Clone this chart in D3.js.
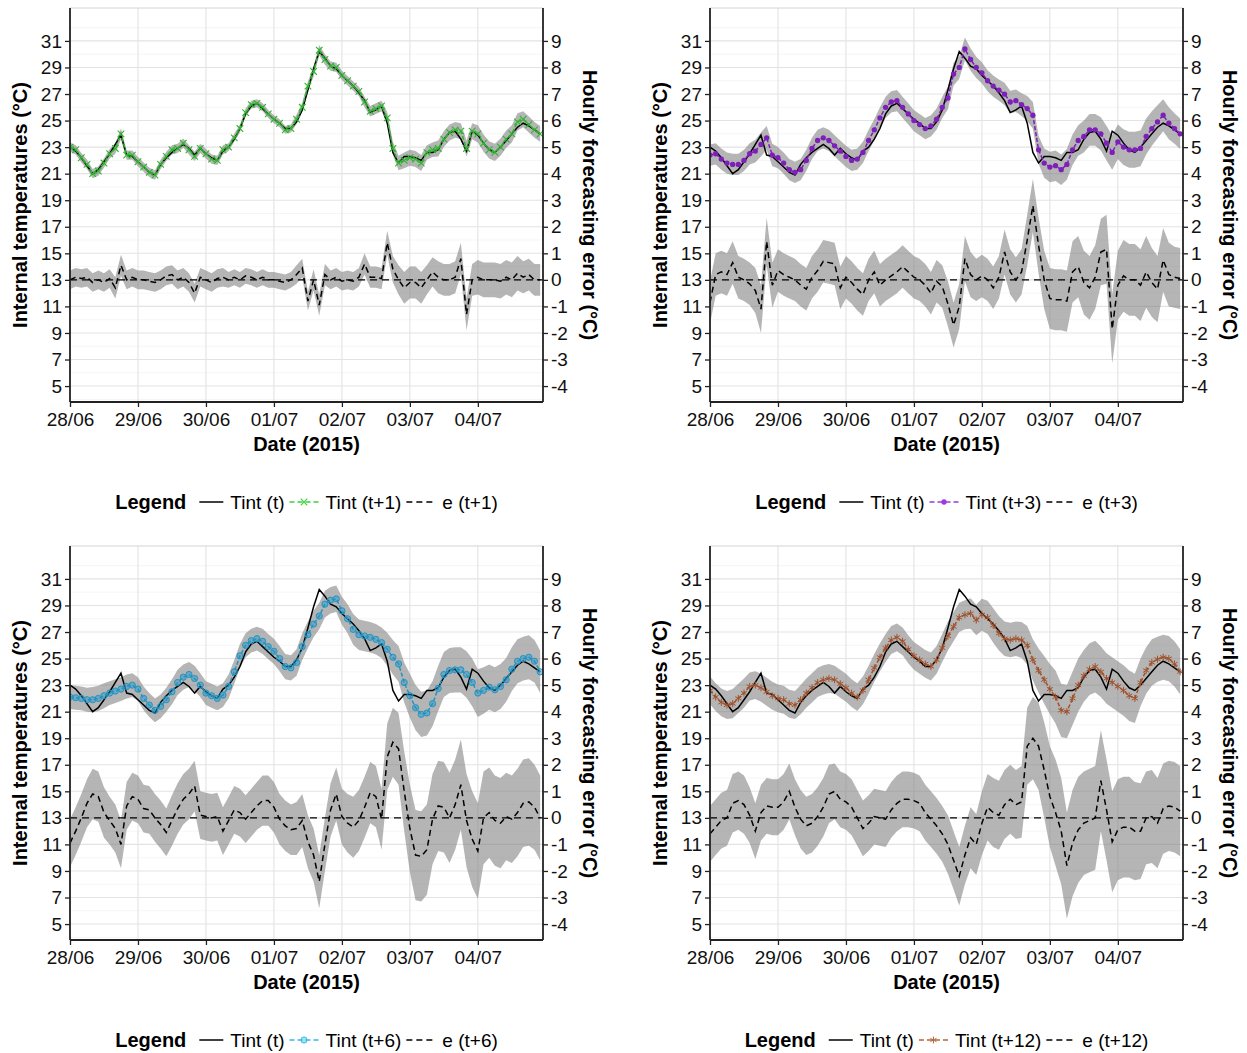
<!DOCTYPE html>
<html>
<head>
<meta charset="utf-8">
<script src="https://cdn.jsdelivr.net/npm/d3@7"></script>
<style>
  body { margin: 0; background: #fff; }
  text { font-family: "Liberation Sans", Arial, sans-serif; }
</style>
</head>
<body>
<div id="chart"></div>
<script>
// x labels and axis ticks
var dayTicks = ["28/06", "29/06", "30/06", "01/07", "02/07", "03/07", "04/07"];
var tempTicks = [5, 7, 9, 11, 13, 15, 17, 19, 21, 23, 25, 27, 29, 31];
var errTicks = [-4, -3, -2, -1, 0, 1, 2, 3, 4, 5, 6, 7, 8, 9];
var stepHours = 2;   // one value every 2 h, from 28/06 00:00

// measured internal temperature Tint(t)
var tint = [23.0,22.7,22.2,21.6,21.0,21.3,21.9,22.5,23.2,23.9,
  22.4,22.3,21.9,21.5,21.1,20.9,21.7,22.2,22.6,22.9,
  23.2,22.9,22.4,22.9,22.5,22.2,22.0,22.7,23.0,23.6,
  24.4,25.5,26.1,26.3,25.9,25.5,25.1,24.8,24.4,24.4,
  24.9,25.8,27.3,28.9,30.2,29.7,29.1,28.9,28.4,28.0,
  27.6,27.1,26.5,25.6,25.8,26.1,24.8,22.6,21.8,22.3,
  22.3,22.2,22.0,22.6,22.6,22.8,23.6,24.1,24.2,23.6,
  22.7,24.2,23.9,23.3,22.8,22.6,23.0,23.5,24.0,24.5,
  24.8,24.6,24.3,24.0];

// t+1
var fc1 = [23.0,22.8,22.2,21.7,21.0,21.2,21.8,22.5,22.9,24.0,
  22.4,22.4,21.9,21.5,21.1,20.9,21.7,22.3,22.8,22.9,
  23.3,22.8,22.3,22.9,22.5,22.1,22.0,22.8,23.0,23.7,
  24.4,25.6,26.2,26.3,26.0,25.5,25.1,24.8,24.3,24.4,
  25.1,26.0,27.6,28.7,30.3,29.6,29.1,29.0,28.4,28.0,
  27.6,27.2,26.4,25.7,25.9,26.1,25.2,22.9,21.8,22.0,
  22.2,22.1,21.8,22.6,22.8,22.9,23.6,24.1,24.3,24.2,
  22.9,24.2,24.0,23.3,22.8,22.6,23.0,23.6,24.0,24.9,
  25.1,24.7,24.3,24.0];
var err1 = [0.0,0.1,0.05,0.1,-0.1,0.0,-0.1,0.05,-0.3,0.55,
  0.0,0.1,0.0,0.0,-0.05,-0.1,0.0,0.15,0.2,0.0,
  0.1,-0.1,-0.5,0.1,0.0,-0.1,0.05,0.1,0.0,0.1,
  0.0,0.15,0.1,0.0,0.1,0.0,0.0,-0.05,-0.1,0.0,
  0.2,0.45,-0.8,0.0,-0.95,0.2,0.0,0.1,-0.05,0.0,
  -0.05,0.1,0.6,0.1,0.1,0.05,1.4,0.4,0.0,-0.3,
  -0.1,-0.1,-0.3,0.0,0.3,0.1,0.0,0.0,0.1,0.8,
  -1.3,0.0,0.1,0.0,0.0,0.0,-0.05,0.1,0.0,0.25,
  0.1,0.2,0.0,0.0];
var band1 = [0.35,0.35,0.35,0.35,0.35,0.35,0.35,0.35,0.4,0.4,
  0.35,0.35,0.35,0.35,0.35,0.35,0.35,0.35,0.35,0.35,
  0.35,0.35,0.35,0.35,0.35,0.35,0.35,0.35,0.3,0.3,
  0.3,0.3,0.3,0.3,0.3,0.3,0.3,0.3,0.3,0.3,
  0.35,0.35,0.35,0.4,0.4,0.4,0.35,0.35,0.35,0.35,
  0.35,0.35,0.4,0.4,0.4,0.4,0.45,0.5,0.55,0.6,
  0.6,0.6,0.6,0.55,0.55,0.6,0.6,0.6,0.6,0.6,
  0.6,0.6,0.65,0.65,0.65,0.65,0.65,0.65,0.65,0.65,
  0.6,0.6,0.6,0.6];

// t+3
var fc3 = [22.4,22.5,22.1,21.8,21.7,21.7,22.0,22.5,22.7,23.2,
  23.7,22.4,22.2,21.8,21.3,21.1,21.3,22.0,22.9,23.5,
  23.7,23.5,23.1,22.7,22.3,22.0,22.1,22.6,23.5,24.3,
  25.2,26.0,26.4,26.5,26.0,25.5,25.0,24.7,24.4,24.6,
  25.1,26.0,26.7,28.5,29.0,30.4,29.6,29.0,28.6,28.0,
  27.6,27.3,27.0,26.4,26.5,26.2,25.9,25.4,22.8,21.8,
  21.5,21.6,21.3,21.7,22.8,23.5,23.8,24.3,24.3,24.0,
  23.3,22.6,23.4,23.0,22.8,22.8,22.9,23.8,24.4,24.9,
  25.4,24.8,24.4,24.0];
var err3 = [-0.85,0.2,0.3,0.2,0.65,0.1,0.0,-0.15,-0.4,-1.1,
  1.45,-0.2,0.35,0.2,0.1,0.0,-0.2,-0.35,0.1,0.35,
  0.7,0.65,0.6,-0.3,0.1,-0.1,-0.35,-0.55,0.0,0.3,
  -0.2,0.0,0.15,0.3,0.5,0.3,0.1,0.0,-0.2,-0.5,
  -0.05,-0.25,-0.9,-1.7,-1.0,0.8,0.2,0.0,0.15,0.0,
  -0.3,0.1,1.05,0.3,0.0,0.3,1.5,2.8,1.3,0.0,
  -0.7,-0.75,-0.75,-0.8,0.3,0.5,-0.1,-0.3,0.1,1.05,
  1.15,-1.85,-0.2,0.15,0.0,0.0,-0.2,0.3,-0.1,-0.35,
  0.75,0.2,0.1,0.05];
var band3 = [0.8,0.8,0.8,0.8,0.8,0.8,0.8,0.8,0.85,0.9,
  0.9,0.85,0.8,0.8,0.8,0.8,0.8,0.8,0.8,0.8,
  0.8,0.8,0.8,0.8,0.8,0.8,0.8,0.8,0.8,0.8,
  0.8,0.8,0.8,0.8,0.8,0.8,0.8,0.8,0.8,0.8,
  0.8,0.8,0.85,0.85,0.85,0.85,0.85,0.8,0.8,0.8,
  0.8,0.8,0.85,0.85,0.85,0.85,0.95,1.0,1.05,1.1,
  1.15,1.15,1.15,1.15,1.15,1.15,1.2,1.2,1.2,1.25,
  1.3,1.3,1.3,1.35,1.35,1.35,1.35,1.35,1.3,1.25,
  1.2,1.2,1.15,1.15];

// t+6
var fc6 = [22.1,22.05,22.0,21.9,21.9,22.0,22.2,22.4,22.55,22.7,
  22.9,23.0,22.7,22.0,21.5,21.1,21.4,21.9,22.5,23.2,
  23.6,23.8,23.5,23.0,22.4,22.2,22.0,22.25,22.9,24.0,
  25.2,26.0,26.35,26.5,26.3,25.9,25.55,25.0,24.4,24.3,
  24.7,25.9,26.8,27.6,28.2,29.1,29.4,29.5,28.6,28.0,
  27.2,26.8,26.7,26.6,26.45,26.2,25.7,25.1,24.6,23.2,
  22.2,21.3,20.8,20.9,21.6,22.75,23.8,24.1,24.15,24.15,
  23.8,23.2,22.4,22.6,22.85,22.65,22.9,23.4,24.2,24.8,
  25.0,25.1,24.8,24.0];
var err6 = [-0.95,-0.5,0.0,0.55,0.9,0.8,0.2,-0.1,-0.4,-1.0,
  0.45,0.8,0.7,0.35,0.3,0.0,-0.25,-0.55,-0.1,0.35,
  0.7,0.9,1.2,0.1,0.05,0.0,0.05,-0.5,-0.1,0.3,
  0.2,-0.05,0.2,0.45,0.65,0.65,0.4,-0.05,-0.3,-0.45,
  -0.4,-0.1,-0.9,-1.4,-2.4,-1.0,0.3,0.9,0.05,-0.2,
  -0.35,-0.1,0.4,0.95,0.8,-0.05,2.3,2.85,2.6,1.0,
  -0.4,-1.4,-1.45,-1.2,-0.05,0.45,0.4,0.0,0.5,1.25,
  -0.1,-0.8,-1.25,0.0,0.2,-0.1,-0.2,0.05,-0.05,0.2,
  0.55,0.6,0.4,0.0];
var band6 = [0.9,0.9,0.9,0.9,0.95,0.95,0.95,0.9,0.9,0.9,
  0.9,0.9,0.9,0.9,0.9,0.9,0.9,0.9,0.95,0.95,
  0.95,0.95,0.95,0.9,0.9,0.9,0.9,0.9,0.9,0.9,
  0.9,0.9,0.9,0.9,0.95,0.95,0.95,0.95,0.95,0.95,
  1.0,1.0,1.0,1.0,1.0,1.0,1.0,1.0,1.05,1.1,
  1.15,1.15,1.15,1.15,1.15,1.15,1.25,1.3,1.35,1.5,
  1.65,1.7,1.7,1.7,1.7,1.7,1.7,1.7,1.7,1.7,
  1.75,1.8,1.8,1.75,1.7,1.7,1.7,1.65,1.65,1.65,
  1.65,1.65,1.6,1.6];

// t+12
var fc12 = [22.6,22.1,21.7,21.5,21.6,22.0,22.4,22.9,23.0,22.8,
  22.5,22.2,22.0,21.9,21.6,21.5,21.9,22.4,22.8,23.2,
  23.4,23.5,23.4,23.1,22.8,22.4,22.1,22.6,23.4,24.3,
  25.1,25.8,26.4,26.6,26.3,25.7,25.2,24.9,24.6,24.4,
  24.9,25.8,26.7,27.4,28.1,28.3,28.4,27.9,28.3,28.1,
  27.5,26.9,26.5,26.4,26.5,26.4,26.0,24.9,24.1,23.4,
  22.7,22.1,21.1,21.0,22.0,23.0,23.7,24.2,24.4,24.0,
  23.5,23.2,22.9,22.6,22.2,22.0,23.2,24.1,24.7,24.95,
  25.1,25.0,24.6,24.0];
var err12 = [-0.6,-0.35,-0.1,0.0,0.55,0.65,0.5,0.1,-0.5,0.2,
  0.45,0.4,0.4,0.6,1.0,0.4,-0.05,-0.3,-0.2,0.05,
  0.4,0.9,1.0,0.7,0.6,0.4,0.0,-0.4,-0.2,0.05,
  0.0,-0.05,0.3,0.55,0.7,0.7,0.65,0.55,0.2,-0.05,
  -0.3,-0.6,-1.0,-1.6,-2.2,-1.4,-0.75,-1.0,-0.2,0.4,
  0.2,0.1,0.5,0.7,0.5,0.6,2.7,3.0,2.7,1.8,
  0.8,0.2,-0.5,-1.8,-0.95,-0.45,-0.2,-0.1,0.0,1.4,
  0.3,-0.9,-0.45,-0.35,-0.35,-0.5,-0.5,0.0,0.05,-0.2,
  0.35,0.45,0.4,0.25];
var band12 = [1.05,1.05,1.05,1.05,1.1,1.1,1.1,1.05,1.05,1.05,
  1.05,1.05,1.05,1.05,1.05,1.05,1.1,1.1,1.1,1.1,
  1.1,1.1,1.05,1.05,1.05,1.05,1.05,1.05,1.05,1.05,
  1.05,1.05,1.05,1.05,1.05,1.05,1.05,1.05,1.05,1.05,
  1.05,1.05,1.1,1.1,1.1,1.1,1.15,1.15,1.2,1.25,
  1.3,1.3,1.3,1.3,1.3,1.35,1.45,1.55,1.65,1.8,
  1.9,2.0,2.0,2.0,2.0,2.0,1.95,1.95,1.95,1.9,
  1.9,1.9,1.9,1.9,1.9,1.85,1.8,1.75,1.75,1.7,
  1.7,1.7,1.7,1.7];

var panels = [
  {fc: fc1, err: err1, band: band1, color: "#2db52d", key: "#3ad13a", shape: "times", lead: "t+1", left: 70, top: 8},
  {fc: fc3, err: err3, band: band3, color: "#7d1fb8", key: "#9a3ae0", shape: "dot", lead: "t+3", left: 710, top: 8},
  {fc: fc6, err: err6, band: band6, color: "#1e95c6", key: "#3ab8ea", shape: "circle", lead: "t+6", left: 70, top: 546},
  {fc: fc12, err: err12, band: band12, color: "#a0522d", key: "#b8643c", shape: "asterisk", lead: "t+12", left: 710, top: 546}
];

var W = 1247, H = 1053;
var pw = 473, ph = 394;
var tMin = 3.8, tMax = 33.48;

var svg = d3.select("#chart").append("svg")
  .attr("width", W)
  .attr("height", H);

var x = d3.scaleLinear().domain([0, 167]).range([0, pw]);
var yT = d3.scaleLinear().domain([tMin, tMax]).range([ph, 0]);
// error axis: 0 sits on 13 degC, one degree of error = two degC
var yE = d3.scaleLinear().domain([(tMin - 13) / 2, (tMax - 13) / 2]).range([ph, 0]);

var hours = tint.map(function(d, i) { return i * stepHours; });

panels.forEach(function(p, k) {
  var g = svg.append("g").attr("transform", "translate(" + p.left + "," + p.top + ")");

  g.append("clipPath").attr("id", "clip" + k)
    .append("rect").attr("width", pw).attr("height", ph);

  // grid
  var grid = g.append("g");
  grid.selectAll(".minor").data(d3.range(4, 33, 2)).enter().append("line")
    .attr("x1", 0).attr("x2", pw)
    .attr("y1", function(d) { return yT(d); }).attr("y2", function(d) { return yT(d); })
    .style("stroke", "#f2f2f2").style("stroke-width", 0.8);
  grid.selectAll(".major").data(tempTicks).enter().append("line")
    .attr("x1", 0).attr("x2", pw)
    .attr("y1", function(d) { return yT(d); }).attr("y2", function(d) { return yT(d); })
    .style("stroke", "#e3e3e3").style("stroke-width", 1.1);
  grid.selectAll(".vmajor").data(dayTicks).enter().append("line")
    .attr("x1", function(d, i) { return x(i * 24); }).attr("x2", function(d, i) { return x(i * 24); })
    .attr("y1", 0).attr("y2", ph)
    .style("stroke", "#e3e3e3").style("stroke-width", 1.1);
  g.append("line").attr("x1", 0).attr("x2", pw).attr("y1", 0).attr("y2", 0)
    .style("stroke", "#d4d4d4").style("stroke-width", 1);

  var plot = g.append("g").attr("clip-path", "url(#clip" + k + ")");

  // ribbons
  plot.append("path")
    .datum(p.fc)
    .attr("d", d3.area()
      .x(function(d, i) { return x(hours[i]); })
      .y0(function(d, i) { return yT(d - p.band[i]); })
      .y1(function(d, i) { return yT(d + p.band[i]); }))
    .style("fill", "#7f7f7f").style("opacity", 0.58);
  plot.append("path")
    .datum(p.err)
    .attr("d", d3.area()
      .x(function(d, i) { return x(hours[i]); })
      .y0(function(d, i) { return yE(d - p.band[i]); })
      .y1(function(d, i) { return yE(d + p.band[i]); }))
    .style("fill", "#7f7f7f").style("opacity", 0.58);

  // zero error line
  plot.append("line")
    .attr("x1", 0).attr("x2", pw).attr("y1", yE(0)).attr("y2", yE(0))
    .style("stroke", "#000").style("stroke-width", 1.4).style("stroke-dasharray", "7,5");

  // error line
  plot.append("path")
    .datum(p.err)
    .attr("d", d3.line().x(function(d, i) { return x(hours[i]); }).y(function(d) { return yE(d); }))
    .style("fill", "none").style("stroke", "#000").style("stroke-width", 1.5)
    .style("stroke-dasharray", "6,4");

  // measured temperature
  plot.append("path")
    .datum(tint)
    .attr("d", d3.line().x(function(d, i) { return x(hours[i]); }).y(function(d) { return yT(d); }))
    .style("fill", "none").style("stroke", "#000").style("stroke-width", 1.5);

  // forecast line + markers
  plot.append("path")
    .datum(p.fc)
    .attr("d", d3.line().x(function(d, i) { return x(hours[i]); }).y(function(d) { return yT(d); }))
    .style("fill", "none").style("stroke", p.color).style("stroke-width", 1.5)
    .style("stroke-dasharray", "4,2");
  drawMarkers(plot, p, p.fc.map(function(d, i) { return [x(hours[i]), yT(d)]; }), p.color);

  // axes
  var axL = g.append("g").call(d3.axisLeft(yT).tickValues(tempTicks).tickSize(5).tickPadding(3));
  var axR = g.append("g").attr("transform", "translate(" + pw + ",0)")
    .call(d3.axisRight(yE).tickValues(errTicks).tickSize(5).tickPadding(3)
      .tickFormat(function(d) { return String(d); }));
  var axB = g.append("g").attr("transform", "translate(0," + ph + ")")
    .call(d3.axisBottom(x).tickValues(dayTicks.map(function(d, i) { return i * 24; }))
      .tickFormat(function(d, i) { return dayTicks[i]; }).tickSize(5).tickPadding(6));
  [axL, axR, axB].forEach(function(a) {
    a.selectAll("text").style("font-size", "19px").style("fill", "#111")
      .style("font-family", "'Liberation Sans', Arial, sans-serif");
    a.selectAll("line").style("stroke", "#222").style("stroke-width", 1.3);
    a.select(".domain").style("stroke", "#222").style("stroke-width", 1.8);
  });
  axL.select(".domain").attr("d", "M0," + ph + "V0");
  axR.select(".domain").attr("d", "M0," + ph + "V0");
  axB.select(".domain").attr("d", "M0,0H" + pw);

  // axis titles
  g.append("text")
    .attr("transform", "translate(-43," + (ph / 2) + ") rotate(-90)")
    .attr("text-anchor", "middle")
    .style("font-size", "20px").style("font-weight", "bold")
    .text("Internal temperatures (°C)");
  g.append("text")
    .attr("transform", "translate(" + (pw + 40) + "," + (ph / 2) + ") rotate(90)")
    .attr("text-anchor", "middle")
    .style("font-size", "20px").style("font-weight", "bold")
    .text("Hourly forecasting error (°C)");
  g.append("text")
    .attr("x", pw / 2).attr("y", ph + 49)
    .attr("text-anchor", "middle")
    .style("font-size", "20px").style("font-weight", "bold")
    .text("Date (2015)");

  // legend
  var lg = g.append("g").attr("transform", "translate(0," + (ph + 100) + ")");
  var cx = 0;
  var title = lg.append("text").attr("x", cx).attr("y", 7)
    .style("font-size", "20px").style("font-weight", "bold").text("Legend");
  cx += title.node().getComputedTextLength() + 13;
  var items = [
    {lab: "Tint (t)", type: "solid"},
    {lab: "Tint (" + p.lead + ")", type: "fc"},
    {lab: "e (" + p.lead + ")", type: "dash"}
  ];
  items.forEach(function(it) {
    var kw = it.type == "solid" ? 24 : 29;
    var key = lg.append("line").attr("x1", cx).attr("x2", cx + kw).attr("y1", 0).attr("y2", 0)
      .style("stroke-width", 1.5);
    if (it.type == "solid") key.style("stroke", "#000");
    if (it.type == "dash") key.style("stroke", "#000").style("stroke-dasharray", "6,4");
    if (it.type == "fc") {
      key.style("stroke", p.key).style("stroke-dasharray", "5,3");
      drawMarkers(lg, p, [[cx + kw / 2, 0]], p.key);
    }
    cx += kw + 7;
    var t = lg.append("text").attr("x", cx).attr("y", 7).style("font-size", "19px").text(it.lab);
    cx += t.node().getComputedTextLength() + 5;
  });
  lg.attr("transform", "translate(" + ((pw - (cx - 5)) / 2) + "," + (ph + 100) + ")");
});

function drawMarkers(sel, p, pts, col) {
  var m = sel.append("g").selectAll("path").data(pts).enter().append("path")
    .attr("transform", function(d) { return "translate(" + d[0] + "," + d[1] + ")"; });
  if (p.shape == "times") {
    m.attr("d", d3.symbol().type(d3.symbolTimes).size(30))
      .style("fill", "none").style("stroke", col).style("stroke-width", 1.1);
  } else if (p.shape == "dot") {
    m.attr("d", d3.symbol().type(d3.symbolCircle).size(22))
      .style("fill", col).style("stroke", "none");
  } else if (p.shape == "circle") {
    m.attr("d", d3.symbol().type(d3.symbolCircle).size(30))
      .style("fill", col).style("fill-opacity", 0.45).style("stroke", col).style("stroke-width", 1);
  } else {
    m.attr("d", d3.symbol().type(d3.symbolAsterisk).size(34))
      .style("fill", "none").style("stroke", col).style("stroke-width", 1);
  }
}
</script>
</body>
</html>
